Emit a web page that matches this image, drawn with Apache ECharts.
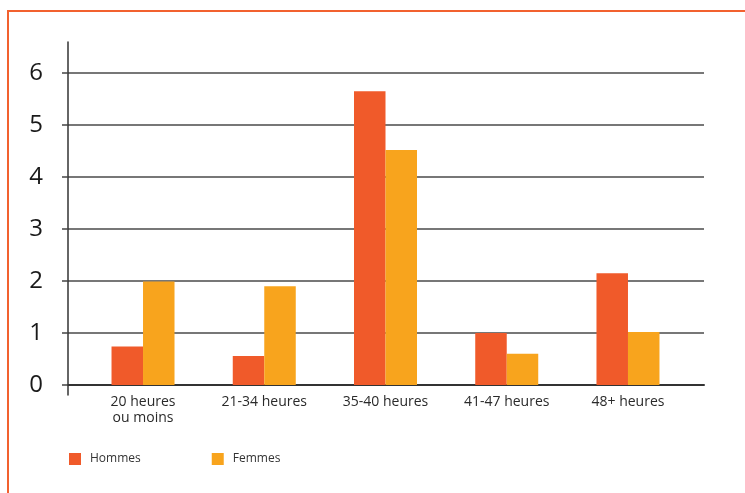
<!DOCTYPE html>
<html><head><meta charset="utf-8">
<script src="https://cdn.jsdelivr.net/npm/echarts@6/dist/echarts.min.js"></script>
<style>
html,body{margin:0;padding:0;background:#fff;overflow:hidden;width:745px;height:493px;}
#frame{position:absolute;left:7px;top:10px;width:800px;height:600px;border-left:2.8px solid #F2612F;border-top:2.8px solid #F2612F;}
#chart{position:absolute;left:0;top:0;width:745px;height:493px;}
</style></head><body>
<div id="frame"></div><div id="chart"></div>
<script>
const categories = ['20 heures\nou moins', '21-34 heures', '35-40 heures', '41-47 heures', '48+ heures'];
const hommes = [0.74, 0.56, 5.65, 1.0, 2.15];
const femmes = [1.99, 1.9, 4.52, 0.6, 1.02];
const seriesNames = ['Hommes', 'Femmes'];
const yMin = 0, yMax = 6, yInterval = 1;

const chart = echarts.init(document.getElementById('chart'), null, {renderer: 'canvas'});
const font = '"Open Sans", "Noto Sans", sans-serif';
chart.setOption({
  animation: false,
  textStyle: {fontFamily: font},
  grid: [
    {left: 68, right: 41, top: 73, bottom: 108},
    {left: 82.4, right: 56.4, top: 73, bottom: 108},
    {left: 68, width: 1, top: 42, bottom: 98}
  ],
  legend: {
    data: seriesNames, left: 69, top: 453, padding: 0,
    itemWidth: 12, itemHeight: 12, itemGap: 71, icon: 'rect',
    textStyle: {fontSize: 12, color: '#333', fontFamily: font, padding: [0, 0, 0, 4]}
  },
  xAxis: [
    {gridIndex: 0, type: 'value', min: 0, max: 1, show: true,
     axisLine: {show: true, onZero: false, lineStyle: {color: '#333', width: 2}},
     axisTick: {show: false}, axisLabel: {show: false}, splitLine: {show: false}},
    {gridIndex: 1, type: 'category', data: categories,
     axisLine: {show: false}, axisTick: {show: false},
     axisLabel: {fontSize: 14, color: '#2a2a2a', margin: 9, lineHeight: 16, fontFamily: font, interval: 0}},
    {gridIndex: 2, type: 'value', show: false}
  ],
  yAxis: [
    {gridIndex: 0, type: 'value', min: yMin, max: yMax, interval: yInterval,
     axisLine: {show: false},
     axisTick: {show: true, length: 6, lineStyle: {color: '#444', width: 1.5}},
     axisLabel: {fontSize: 24, color: '#1a1a1a', margin: 25, fontFamily: font},
     splitLine: {show: true, lineStyle: {color: '#4a4a4a', width: 1.5}}},
    {gridIndex: 1, type: 'value', min: yMin, max: yMax, show: false},
    {gridIndex: 2, type: 'value', min: 0, max: 1,
     axisLine: {show: true, lineStyle: {color: '#333', width: 1.5}},
     axisTick: {show: false}, axisLabel: {show: false}, splitLine: {show: false}}
  ],
  series: [
    {name: seriesNames[0], type: 'bar', xAxisIndex: 1, yAxisIndex: 1, data: hommes,
     barWidth: 31.5, barGap: '0%', itemStyle: {color: '#F05A2A'}},
    {name: seriesNames[1], type: 'bar', xAxisIndex: 1, yAxisIndex: 1, data: femmes,
     barWidth: 31.5, barGap: '0%', itemStyle: {color: '#F8A41D'}}
  ]
});
</script>
</body></html>
